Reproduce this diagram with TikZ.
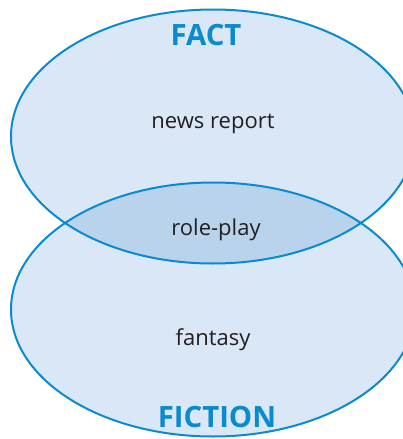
\documentclass[tikz,border=0pt]{standalone}
\usepackage{fontspec}
\setmainfont{Open Sans}
\definecolor{vennline}{HTML}{0A8BD0}
\definecolor{vennfill}{HTML}{D9E7F6}
\definecolor{vennboth}{HTML}{B9D3EC}
\definecolor{labeltext}{HTML}{231F20}
\tikzstyle{settitle} = [font=\bfseries\fontsize{22}{22}\selectfont, text=vennline]
\tikzstyle{entry} = [font=\fontsize{16.5}{16.5}\selectfont, text=labeltext]
\tikzstyle{outline} = [draw=vennline, line width=1.5pt]

\begin{document}
\begin{tikzpicture}[x=0.75pt, y=-0.75pt]
  \useasboundingbox (0,0) rectangle (403,439);
  \clip (0,0) rectangle (403,439);
  \coordinate (fact) at (213,136.5);
  \coordinate (fiction) at (213,309.5);

  % the two sets
  \fill[vennfill] (fact) ellipse [x radius=202, y radius=127];
  \fill[vennfill] (fiction) ellipse [x radius=202, y radius=127];
  % overlap
  \begin{scope}
    \clip (fact) ellipse [x radius=202, y radius=127];
    \fill[vennboth] (fiction) ellipse [x radius=202, y radius=127];
  \end{scope}
  \path[outline] (fact) ellipse [x radius=202, y radius=127];
  \path[outline] (fiction) ellipse [x radius=202, y radius=127];

  \node (factlabel)    [settitle] at (206,35)  {FACT};
  \node (news)         [entry]    at (213,124) {news report};
  \node (roleplay)     [entry]    at (216,230) {role-play};
  \node (fantasy)      [entry]    at (213,340) {fantasy};
  \node (fictionlabel) [settitle] at (217,417) {FICTION};
\end{tikzpicture}
\end{document}
